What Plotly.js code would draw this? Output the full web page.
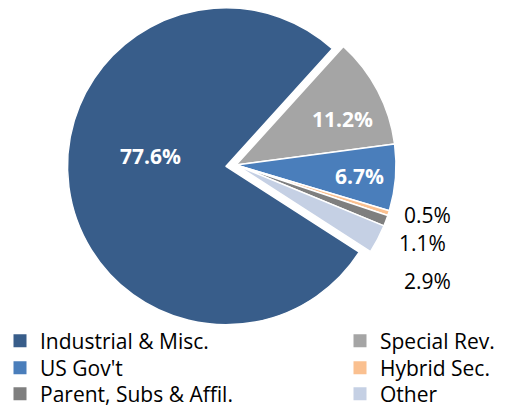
<!DOCTYPE html>
<html><head><meta charset="utf-8">
<script src="https://cdn.plot.ly/plotly-3.0.1.min.js"></script>
<style>html,body{margin:0;padding:0;background:#fff}#chart{width:508px;height:407px}</style>
</head><body><div id="chart"></div>
<script>
// ---- data ----
const labels = ['Industrial & Misc.', 'Special Rev.', "US Gov't", 'Hybrid Sec.', 'Parent, Subs & Affil.', 'Other'];
const values = [77.6, 11.2, 6.7, 0.5, 1.1, 2.9];
const colors = ['#385D8A', '#A5A5A5', '#4A7EBB', '#FAC090', '#7F7F7F', '#C5D0E4'];
const explodedSlice = 'Industrial & Misc.';

// ---- layout constants (pixels in the 508x407 figure) ----
const W = 508, H = 407;
const FONT = '"Open Sans", "Noto Sans", sans-serif';
const labelPos = [[150.5, 156], [342.5, 119.3], [359.2, 176.3], [427.7, 215], [422.8, 243], [427.2, 281]];
const legendPos = [[0, 341], [340, 341], [0, 368], [340, 368], [0, 394], [340, 394]];
const px = x => x / W, py = y => 1 - y / H;

// ---- build ----
const isBig = labels.map(l => l === explodedSlice);
const CLEAR = 'rgba(0,0,0,0)';

function pieTrace(showBig, domain) {
  const mine = i => isBig[i] === showBig;
  return {
    type: 'pie', labels: labels, values: values, sort: false,
    direction: 'clockwise', rotation: 122.8, domain: domain,
    marker: {
      colors: colors.map((c, i) => mine(i) ? c : CLEAR),
      line: {color: '#ffffff', width: labels.map((_, i) => mine(i) ? 1.5 : 0)}
    },
    textposition: 'none',
    showlegend: false, hoverinfo: 'skip'
  };
}

const traces = [
  pieTrace(true, {x: [0.1329, 0.7569], y: [0.2020, 0.9808]}),
  pieTrace(false, {x: [0.1496, 0.7795], y: [0.2015, 0.9877]})
];

const layout = {
  width: W, height: H,
  margin: {l: 0, r: 0, t: 0, b: 0, autoexpand: false},
  paper_bgcolor: '#ffffff', plot_bgcolor: '#ffffff',
  showlegend: true,
  xaxis: {visible: false}, yaxis: {visible: false},
  font: {family: FONT},
  annotations: []
};

labels.forEach((name, i) => {
  const key = i === 0 ? 'legend' : 'legend' + (i + 1);
  traces.push({
    type: 'scatter', mode: 'markers', x: [null], y: [null], name: name,
    marker: {symbol: 'square', size: 13, color: colors[i]},
    legend: key, hoverinfo: 'skip'
  });
  layout[key] = {
    orientation: 'v', xanchor: 'left', yanchor: 'middle',
    x: px(legendPos[i][0]), y: py(legendPos[i][1]),
    font: {family: FONT, size: 21, color: '#000000'},
    bgcolor: 'rgba(0,0,0,0)'
  };
  const inside = values[i] > 5;
  layout.annotations.push({
    xref: 'paper', yref: 'paper', x: px(labelPos[i][0]), y: py(labelPos[i][1]),
    xanchor: 'center', yanchor: 'middle', showarrow: false,
    text: values[i].toFixed(1) + '%',
    font: inside ? {family: FONT, size: 21, color: '#ffffff', weight: 'bold'}
                 : {family: FONT, size: 21, color: '#000000'}
  });
});

Plotly.newPlot('chart', traces, layout, {displayModeBar: false, staticPlot: true});
</script>
</body></html>
